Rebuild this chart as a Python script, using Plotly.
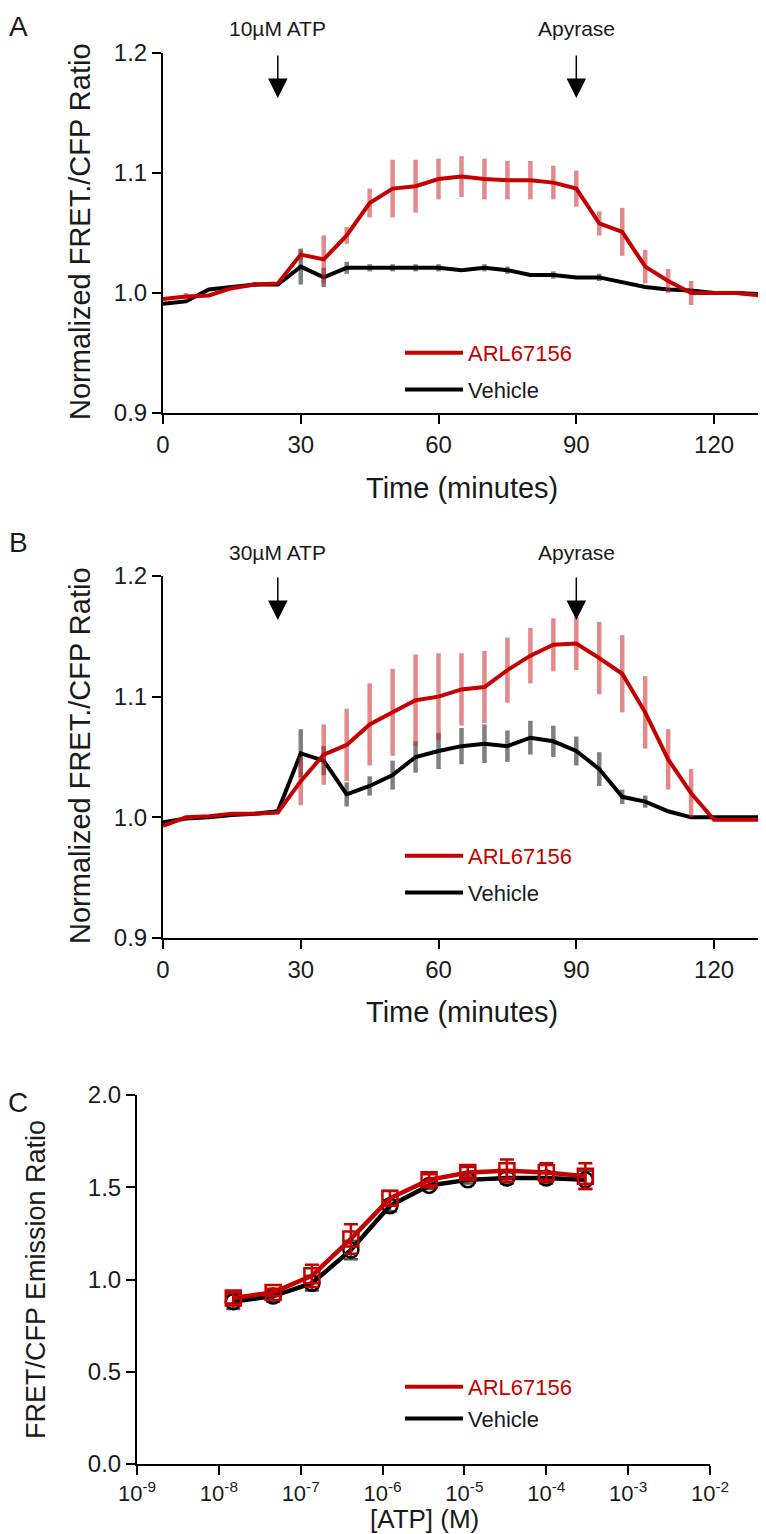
import plotly.graph_objects as go

# time points (minutes) for panels A and B
time_min = [0, 5, 10, 15, 20, 25, 30, 35, 40, 45, 50, 55, 60, 65,
            70, 75, 80, 85, 90, 95, 100, 105, 110, 115, 120, 125, 130]

# panel A - 10uM ATP
a_arl = [0.995, 0.997, 0.998, 1.004, 1.007, 1.008, 1.032, 1.028, 1.048, 1.075, 1.087, 1.089, 1.095, 1.097,
         1.095, 1.094, 1.094, 1.092, 1.087, 1.058, 1.051, 1.022, 1.010, 1.000, 1.000, 1.000, 0.998]
a_arl_err = [0, 0.003, 0, 0, 0, 0, 0.004, 0.020, 0.007, 0.012, 0.024, 0.022, 0.017, 0.017,
             0.017, 0.016, 0.016, 0.014, 0.015, 0.010, 0.020, 0.014, 0.010, 0.010, 0, 0, 0]
a_veh = [0.991, 0.993, 1.003, 1.005, 1.007, 1.007, 1.022, 1.013, 1.021, 1.021, 1.021, 1.021, 1.021, 1.019,
         1.021, 1.019, 1.015, 1.015, 1.013, 1.013, 1.009, 1.005, 1.003, 1.002, 1.000, 1.000, 0.999]
a_veh_err = [0, 0, 0, 0, 0.002, 0, 0.015, 0.008, 0.005, 0.003, 0.003, 0.003, 0.003, 0,
             0.003, 0.003, 0, 0.003, 0, 0.003, 0, 0, 0, 0, 0, 0, 0]

# panel B - 30uM ATP
b_arl = [0.993, 1.000, 1.001, 1.003, 1.003, 1.004, 1.030, 1.052, 1.060, 1.077, 1.087, 1.097, 1.100, 1.106,
         1.108, 1.122, 1.134, 1.143, 1.144, 1.132, 1.119, 1.087, 1.048, 1.020, 0.998, 0.998, 0.998]
b_arl_err = [0, 0, 0, 0, 0, 0, 0.020, 0.025, 0.030, 0.034, 0.036, 0.038, 0.036, 0.030,
             0.030, 0.027, 0.023, 0.022, 0.022, 0.030, 0.032, 0.030, 0.025, 0.020, 0, 0, 0]
b_veh = [0.996, 0.999, 1.000, 1.002, 1.003, 1.005, 1.053, 1.047, 1.019, 1.026, 1.035, 1.050, 1.055, 1.059,
         1.061, 1.059, 1.066, 1.063, 1.055, 1.040, 1.017, 1.013, 1.005, 1.000, 1.000, 1.000, 1.000]
b_veh_err = [0, 0, 0, 0, 0, 0, 0.020, 0.012, 0.010, 0.008, 0.012, 0.013, 0.015, 0.015,
             0.016, 0.013, 0.014, 0.013, 0.012, 0.014, 0.006, 0.005, 0, 0, 0, 0, 0]

# panel C - concentration response
atp_conc = [1.5e-8, 4.6e-8, 1.37e-7, 4.1e-7, 1.23e-6, 3.7e-6, 1.1e-5, 3.3e-5, 1e-4, 3e-4]
c_arl = [0.90, 0.93, 1.02, 1.22, 1.44, 1.54, 1.58, 1.59, 1.58, 1.56]
c_arl_err = [0.03, 0.02, 0.06, 0.08, 0.04, 0.03, 0.03, 0.06, 0.05, 0.07]
c_veh = [0.88, 0.91, 0.98, 1.16, 1.40, 1.51, 1.54, 1.55, 1.55, 1.54]
c_veh_err = [0.04, 0.03, 0.04, 0.05, 0.03, 0.02, 0.02, 0.03, 0.03, 0.05]

log_ticks = [1e-9, 1e-8, 1e-7, 1e-6, 1e-5, 1e-4, 1e-3, 1e-2]
log_labels = ["10<sup>-9</sup>", "10<sup>-8</sup>", "10<sup>-7</sup>", "10<sup>-6</sup>",
              "10<sup>-5</sup>", "10<sup>-4</sup>", "10<sup>-3</sup>", "10<sup>-2</sup>"]

RED = "#c40000"
RED_ERR = "rgba(205,40,40,0.55)"
BLK = "#000000"
BLK_ERR = "rgba(0,0,0,0.5)"
TXT = "#1a1a1a"
FONT = "Liberation Sans, Arial, sans-serif"
ARL_NAME = "<span style='color:%s'>ARL67156</span>" % RED

W, H, OFF = 766, 1534, 8  # page body margin shifts the figure by 8px


def px(p):
    return (p - OFF) / W


def py(p):
    return 1 - (p - OFF) / H


fig = go.Figure()


def time_traces(arl, arl_err, veh, veh_err, xa, ya, leg):
    fig.add_trace(go.Scatter(
        x=time_min, y=veh, mode="lines", name="Vehicle", xaxis=xa, yaxis=ya,
        line=dict(color=BLK, width=4), legend=leg, legendrank=2, legendgroup="veh" + leg,
        error_y=dict(type="data", array=veh_err, color=BLK_ERR, thickness=4.5, width=0)))
    fig.add_trace(go.Scatter(
        x=time_min, y=arl, mode="lines", name=ARL_NAME, xaxis=xa, yaxis=ya,
        line=dict(color=RED, width=4), legend=leg, legendrank=1, legendgroup="arl" + leg,
        error_y=dict(type="data", array=arl_err, color=RED_ERR, thickness=4.5, width=0)))


time_traces(a_arl, a_arl_err, a_veh, a_veh_err, "x", "y", "legend")
time_traces(b_arl, b_arl_err, b_veh, b_veh_err, "x2", "y2", "legend2")

# panel C
fig.add_trace(go.Scatter(
    x=atp_conc, y=c_veh, mode="lines+markers", xaxis="x3", yaxis="y3", showlegend=False,
    line=dict(color=BLK, width=4.5),
    marker=dict(symbol="circle-open", size=15, color=BLK, line=dict(width=2.5)),
    error_y=dict(type="data", array=c_veh_err, color="#555555", thickness=2.5, width=7)))
fig.add_trace(go.Scatter(
    x=atp_conc, y=c_arl, mode="lines+markers", xaxis="x3", yaxis="y3", showlegend=False,
    line=dict(color=RED, width=4.5),
    marker=dict(symbol="square-open", size=15, color=RED, line=dict(width=2.5)),
    error_y=dict(type="data", array=c_arl_err, color=RED, thickness=2.5, width=7)))
fig.add_trace(go.Scatter(x=[None], y=[None], mode="lines", name=ARL_NAME, xaxis="x3", yaxis="y3",
                         line=dict(color=RED, width=4), legend="legend3", legendrank=1,
                         legendgroup="arl3"))
fig.add_trace(go.Scatter(x=[None], y=[None], mode="lines", name="Vehicle", xaxis="x3", yaxis="y3",
                         line=dict(color=BLK, width=4), legend="legend3", legendrank=2,
                         legendgroup="veh3"))

axis_common = dict(showline=True, linecolor="black", linewidth=2, ticks="outside", ticklen=9,
                   tickwidth=2, tickcolor="black", showgrid=False, zeroline=False, automargin=False,
                   tickfont=dict(family=FONT, size=24, color=TXT))

leg_common = dict(font=dict(family=FONT, size=22, color=TXT), bgcolor="rgba(0,0,0,0)",
                  xanchor="left", yanchor="top", traceorder="grouped", itemwidth=58)

fig.update_layout(
    width=W, height=H, margin=dict(l=0, r=0, t=0, b=0),
    plot_bgcolor="white", paper_bgcolor="white",
    font=dict(family=FONT, size=20, color=TXT),
    xaxis=dict(axis_common, domain=[px(163), px(760)], range=[0, 130], tickvals=[0, 30, 60, 90, 120],
               anchor="y"),
    yaxis=dict(axis_common, domain=[py(413), py(53)], range=[0.9, 1.2], tickvals=[0.9, 1.0, 1.1, 1.2],
               tickformat=".1f", anchor="x"),
    xaxis2=dict(axis_common, domain=[px(163), px(760)], range=[0, 130], tickvals=[0, 30, 60, 90, 120],
                anchor="y2"),
    yaxis2=dict(axis_common, domain=[py(938), py(576)], range=[0.9, 1.2], tickvals=[0.9, 1.0, 1.1, 1.2],
                tickformat=".1f", anchor="x2"),
    xaxis3=dict(axis_common, domain=[px(137), px(710)], type="log", range=[-9, -2],
                tickvals=log_ticks, ticktext=log_labels, anchor="y3",
                tickfont=dict(family=FONT, size=22, color=TXT)),
    yaxis3=dict(axis_common, domain=[py(1464), py(1095)], range=[0, 2], tickvals=[0, 0.5, 1.0, 1.5, 2.0],
                tickformat=".1f", anchor="x3"),
    legend=dict(leg_common, x=px(400), y=py(332), tracegroupgap=5),
    legend2=dict(leg_common, x=px(400), y=py(835), tracegroupgap=5),
    legend3=dict(leg_common, x=px(400), y=py(1366), tracegroupgap=0),
)

ann = []


def label(text, xp, yp, size, angle=0, yanchor="middle"):
    ann.append(dict(text=text, x=px(xp), y=py(yp), xref="paper", yref="paper", textangle=angle,
                    showarrow=False, xanchor="center", yanchor=yanchor,
                    font=dict(family=FONT, size=size, color=TXT)))


# panel letters
label("A", 18, 9, 28, yanchor="top")
label("B", 18, 542, 28)
label("C", 18, 1102, 28)
# axis titles
label("Normalized FRET./CFP Ratio", 80, 232, 29, angle=-90)
label("Normalized FRET./CFP Ratio", 80, 756, 29, angle=-90)
label("Time (minutes)", 462, 488, 29)
label("Time (minutes)", 462, 1012, 29)
label("FRET/CFP Emission Ratio", 36, 1280, 27, angle=-90)
label("[ATP] (M)", 424, 1519, 26)

# treatment arrows
for xa, ytxt, yhead, text, tx in [("x", 28, 98, "10µM ATP", 25), ("x", 28, 98, "Apyrase", 90),
                                  ("x2", 552, 620, "30µM ATP", 25), ("x2", 552, 620, "Apyrase", 90)]:
    ann.append(dict(text=text, x=tx, xref=xa, y=py(ytxt), yref="paper", showarrow=False,
                    xanchor="center", yanchor="middle", font=dict(family=FONT, size=21, color=TXT)))
    ann.append(dict(text="", x=tx, xref=xa, y=py(yhead), yref="paper", showarrow=True,
                    ax=0, ay=-44, arrowhead=2, arrowsize=2.6, arrowwidth=1.5, arrowcolor="black"))

fig.update_layout(annotations=ann)

fig.write_html("out.html")
